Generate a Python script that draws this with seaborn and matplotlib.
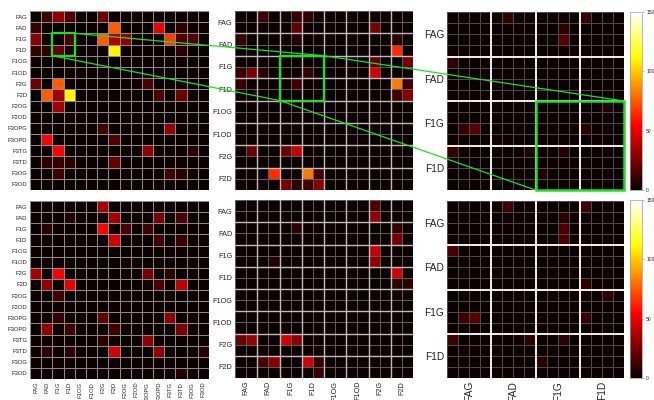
import numpy as np
import matplotlib
matplotlib.use("Agg")
import matplotlib.pyplot as plt
import seaborn as sns
from matplotlib.patches import Rectangle, ConnectionPatch
from matplotlib.cm import ScalarMappable
from matplotlib.colors import Normalize

labels16 = ['FAG', 'FAD', 'F1G', 'F1D', 'F1OG', 'F1OD', 'F2G', 'F2D',
            'F2OG', 'F2OD', 'F3OPG', 'F3OPD', 'F3TG', 'F3TD', 'F3OG', 'F3OD']
labels8 = labels16[:8]
labels4 = labels16[:4]
cbar_ticks = [0, 50, 100, 150]

top_left = [
    [1, 12, 30, 15, 1, 1, 22, 1, 1, 1, 1, 1, 1, 1, 1, 1],
    [10, 1, 1, 1, 1, 1, 1, 75, 1, 1, 1, 50, 1, 8, 1, 1],
    [30, 1, 1, 15, 1, 1, 75, 38, 30, 1, 1, 1, 68, 15, 15, 1],
    [10, 8, 20, 1, 1, 1, 1, 110, 1, 1, 1, 1, 1, 8, 1, 1],
    [1, 1, 1, 1, 1, 1, 1, 1, 1, 1, 1, 1, 1, 1, 1, 1],
    [1, 1, 1, 1, 1, 1, 1, 1, 1, 1, 1, 1, 1, 1, 1, 1],
    [22, 1, 75, 1, 1, 1, 1, 1, 1, 1, 15, 1, 1, 1, 1, 1],
    [1, 75, 35, 110, 1, 1, 1, 1, 1, 1, 1, 15, 1, 22, 1, 1],
    [1, 1, 35, 1, 1, 1, 1, 1, 1, 1, 1, 1, 1, 1, 1, 1],
    [1, 1, 1, 1, 1, 1, 1, 1, 1, 1, 1, 1, 1, 1, 1, 1],
    [1, 1, 1, 1, 1, 1, 12, 1, 1, 1, 1, 1, 30, 1, 1, 1],
    [1, 55, 1, 1, 1, 1, 1, 15, 1, 1, 1, 1, 1, 1, 1, 1],
    [1, 1, 55, 1, 1, 1, 1, 1, 1, 1, 30, 1, 1, 1, 8, 1],
    [1, 8, 10, 8, 1, 1, 1, 20, 1, 1, 1, 1, 1, 1, 1, 1],
    [1, 1, 12, 1, 1, 1, 1, 1, 1, 1, 1, 1, 12, 8, 1, 1],
    [1, 1, 1, 1, 1, 1, 1, 1, 1, 1, 1, 1, 1, 1, 1, 1],
]

top_mid = [
    [1, 1, 12, 1, 1, 10, 10, 1, 1, 1, 1, 1, 1, 1, 1, 1],
    [1, 1, 1, 1, 1, 20, 1, 1, 1, 1, 1, 1, 25, 1, 1, 1],
    [10, 1, 1, 1, 1, 6, 1, 1, 1, 1, 1, 1, 1, 1, 8, 1],
    [1, 1, 1, 1, 1, 1, 1, 1, 1, 1, 1, 1, 1, 1, 65, 1],
    [1, 1, 1, 1, 1, 1, 1, 1, 1, 1, 1, 1, 20, 1, 1, 25],
    [10, 25, 6, 1, 1, 1, 10, 1, 1, 1, 1, 1, 45, 1, 1, 1],
    [10, 1, 1, 1, 1, 12, 1, 1, 1, 1, 1, 1, 1, 1, 82, 12],
    [1, 1, 1, 1, 1, 1, 1, 1, 1, 1, 1, 1, 1, 1, 12, 28],
    [1, 1, 1, 1, 1, 1, 1, 1, 1, 1, 1, 1, 1, 1, 1, 1],
    [1, 1, 1, 1, 1, 1, 1, 1, 1, 1, 1, 1, 1, 1, 1, 1],
    [1, 1, 1, 1, 1, 1, 1, 1, 1, 1, 1, 1, 1, 1, 1, 1],
    [1, 1, 1, 1, 1, 1, 1, 1, 1, 1, 1, 1, 1, 1, 1, 1],
    [1, 22, 1, 1, 22, 42, 1, 1, 1, 1, 1, 1, 1, 1, 1, 1],
    [1, 1, 1, 1, 1, 1, 1, 1, 1, 1, 1, 1, 1, 1, 1, 1],
    [1, 1, 1, 65, 1, 1, 82, 12, 1, 1, 1, 1, 1, 1, 1, 1],
    [1, 1, 1, 1, 25, 8, 12, 28, 1, 1, 1, 1, 1, 1, 1, 1],
]

top_right = [
    [1, 1, 1, 1, 1, 10, 1, 1, 1, 1, 1, 1, 10, 1, 1, 1],
    [1, 1, 1, 1, 1, 1, 1, 1, 1, 1, 8, 1, 1, 1, 1, 1],
    [1, 1, 1, 1, 1, 1, 1, 1, 1, 1, 18, 1, 1, 1, 1, 1],
    [1, 1, 1, 1, 1, 1, 1, 1, 1, 1, 1, 1, 1, 1, 1, 1],
    [10, 1, 1, 1, 1, 1, 1, 1, 1, 1, 1, 1, 1, 1, 1, 1],
    [1, 1, 1, 1, 1, 1, 1, 1, 1, 1, 1, 1, 1, 1, 1, 1],
    [1, 1, 1, 1, 1, 1, 1, 1, 1, 1, 1, 1, 1, 1, 1, 1],
    [1, 1, 1, 1, 1, 1, 1, 1, 1, 1, 1, 1, 1, 1, 1, 1],
    [1, 1, 1, 1, 1, 1, 1, 1, 1, 1, 1, 1, 1, 1, 6, 1],
    [1, 1, 1, 1, 1, 1, 1, 1, 1, 1, 1, 1, 1, 1, 1, 1],
    [1, 10, 18, 1, 1, 1, 1, 1, 1, 1, 1, 1, 8, 1, 1, 1],
    [1, 1, 1, 1, 1, 1, 1, 1, 1, 1, 1, 1, 1, 1, 1, 1],
    [10, 1, 1, 1, 1, 1, 1, 5, 1, 1, 6, 1, 1, 1, 1, 1],
    [1, 1, 1, 1, 1, 1, 1, 1, 1, 1, 1, 1, 1, 1, 1, 1],
    [1, 1, 1, 1, 1, 1, 1, 1, 6, 1, 1, 1, 1, 1, 1, 1],
    [1, 1, 1, 1, 1, 1, 1, 1, 1, 1, 1, 1, 1, 1, 1, 1],
]

bottom_left = [
    [1, 1, 1, 1, 1, 1, 35, 1, 1, 1, 1, 1, 1, 1, 1, 1],
    [1, 1, 1, 6, 1, 1, 1, 35, 1, 1, 1, 25, 1, 15, 1, 1],
    [1, 8, 1, 1, 1, 1, 55, 1, 15, 1, 12, 1, 1, 1, 1, 1],
    [1, 1, 1, 1, 1, 1, 1, 45, 1, 1, 1, 12, 1, 10, 1, 1],
    [1, 1, 1, 1, 1, 1, 1, 1, 1, 1, 1, 1, 1, 1, 1, 1],
    [1, 1, 1, 1, 1, 1, 1, 1, 1, 1, 1, 1, 1, 1, 1, 1],
    [35, 1, 55, 1, 1, 1, 1, 1, 1, 1, 25, 1, 8, 1, 1, 1],
    [1, 30, 1, 50, 1, 1, 1, 1, 1, 1, 1, 15, 1, 40, 1, 1],
    [1, 1, 12, 1, 1, 1, 1, 1, 1, 1, 1, 1, 1, 1, 1, 1],
    [1, 1, 1, 1, 1, 1, 1, 1, 1, 1, 1, 1, 1, 1, 1, 1],
    [1, 1, 10, 1, 1, 1, 20, 1, 1, 1, 1, 1, 30, 1, 1, 1],
    [1, 30, 1, 12, 1, 1, 1, 12, 1, 1, 1, 1, 1, 25, 1, 1],
    [1, 1, 1, 1, 1, 1, 8, 1, 1, 1, 30, 1, 1, 1, 1, 1],
    [1, 10, 1, 8, 1, 1, 1, 45, 1, 1, 1, 30, 1, 1, 1, 8],
    [1, 1, 1, 1, 1, 1, 1, 1, 1, 1, 1, 1, 1, 1, 1, 1],
    [1, 1, 1, 1, 1, 1, 1, 1, 1, 1, 1, 1, 1, 6, 1, 1],
]

bottom_mid = [
    [1, 1, 1, 1, 1, 1, 1, 1, 1, 1, 1, 1, 15, 1, 1, 1],
    [1, 1, 1, 1, 1, 1, 1, 1, 1, 1, 1, 1, 30, 1, 1, 1],
    [1, 1, 1, 1, 1, 8, 1, 1, 1, 1, 1, 1, 1, 1, 10, 1],
    [1, 1, 1, 1, 1, 1, 1, 1, 1, 1, 1, 1, 1, 1, 25, 1],
    [1, 1, 1, 1, 1, 1, 1, 1, 1, 1, 1, 1, 42, 1, 1, 1],
    [1, 1, 1, 6, 1, 1, 1, 1, 1, 1, 1, 1, 30, 1, 1, 1],
    [1, 1, 1, 1, 1, 1, 1, 1, 1, 1, 1, 1, 1, 1, 45, 1],
    [1, 1, 1, 1, 1, 1, 1, 1, 1, 1, 1, 1, 1, 1, 8, 8],
    [1, 1, 1, 1, 1, 1, 1, 1, 1, 1, 1, 1, 1, 1, 1, 1],
    [1, 1, 1, 1, 1, 1, 1, 1, 1, 1, 1, 1, 1, 1, 1, 1],
    [1, 1, 1, 1, 1, 1, 1, 1, 1, 1, 1, 1, 1, 1, 1, 1],
    [1, 1, 1, 1, 1, 1, 1, 1, 1, 1, 1, 1, 1, 1, 1, 1],
    [22, 32, 1, 1, 45, 30, 1, 1, 1, 1, 1, 1, 1, 1, 1, 1],
    [1, 1, 1, 1, 1, 1, 1, 1, 1, 1, 1, 1, 1, 1, 1, 1],
    [1, 1, 15, 28, 1, 1, 45, 10, 1, 1, 1, 1, 1, 1, 1, 1],
    [1, 1, 1, 1, 1, 1, 1, 10, 1, 1, 1, 1, 1, 1, 1, 1],
]

bottom_right = [
    [1, 1, 1, 1, 1, 12, 1, 1, 1, 1, 1, 1, 12, 1, 1, 1],
    [1, 1, 1, 1, 1, 1, 1, 1, 1, 1, 8, 1, 1, 1, 1, 1],
    [1, 1, 1, 1, 1, 1, 1, 1, 1, 1, 15, 1, 1, 1, 1, 1],
    [1, 1, 1, 1, 1, 1, 1, 1, 1, 1, 15, 1, 1, 1, 1, 1],
    [14, 1, 1, 1, 1, 1, 1, 1, 1, 1, 1, 1, 1, 1, 1, 1],
    [1, 1, 1, 1, 1, 1, 1, 1, 1, 1, 1, 1, 1, 1, 1, 1],
    [1, 1, 1, 1, 1, 1, 1, 1, 1, 1, 1, 1, 1, 1, 1, 1],
    [1, 1, 1, 1, 1, 1, 1, 1, 1, 1, 1, 1, 8, 1, 1, 1],
    [1, 1, 1, 1, 1, 1, 1, 1, 1, 1, 1, 1, 1, 1, 8, 1],
    [1, 1, 1, 1, 1, 1, 1, 1, 1, 1, 1, 1, 1, 1, 1, 1],
    [1, 12, 18, 1, 1, 1, 1, 1, 1, 1, 1, 1, 10, 1, 1, 1],
    [1, 1, 1, 1, 1, 1, 1, 1, 1, 1, 1, 1, 1, 1, 1, 1],
    [12, 1, 1, 1, 1, 1, 1, 8, 1, 1, 8, 1, 1, 1, 1, 1],
    [1, 1, 1, 1, 1, 1, 1, 1, 1, 1, 1, 1, 1, 1, 1, 1],
    [1, 1, 1, 1, 1, 1, 1, 1, 8, 1, 1, 1, 1, 1, 1, 1],
    [1, 1, 1, 1, 1, 1, 1, 1, 1, 1, 1, 1, 1, 1, 1, 1],
]

sns.set_style("white")
plt.rcParams['font.family'] = ['Liberation Sans', 'DejaVu Sans']

W, H = 654, 400
fig = plt.figure(figsize=(W / 100, H / 100), dpi=100)


def add_ax(x0, y0, x1, y1):
    return fig.add_axes([x0 / W, 1 - y1 / H, (x1 - x0) / W, (y1 - y0) / H])


GREEN = '#1fe01f'
CMAP = 'hot'


def draw(ax, data, level, show_x):
    n = 16
    if level == 0:
        lw, lc = 0.6, '#8a8a8a'
    elif level == 1:
        lw, lc = 0.4, '#5a5a5a'
    else:
        lw, lc = 0.4, '#4a4a4a'
    sns.heatmap(np.array(data), ax=ax, cmap=CMAP, vmin=0, vmax=150, cbar=False,
                linewidths=lw, linecolor=lc, xticklabels=False, yticklabels=False)
    if level == 0:
        pos = np.arange(n) + 0.5
        labs, fs = labels16, 4.2
    elif level == 1:
        for k in range(2, n, 2):
            ax.axhline(k, color='#bdbdbd', lw=1.0)
            ax.axvline(k, color='#bdbdbd', lw=1.0)
        pos = np.arange(0, n, 2) + 1.0
        labs, fs = labels8, 5.2
    else:
        for k in range(4, n, 4):
            ax.axhline(k, color='#f0f0f0', lw=1.4)
            ax.axvline(k, color='#f0f0f0', lw=1.4)
        pos = np.arange(0, n, 4) + 2.0
        labs, fs = labels4, 7.3
    ax.set_yticks(pos)
    ax.set_yticklabels(labs, fontsize=fs, rotation=0, color='#222222')
    if show_x:
        ax.set_xticks(pos)
        ax.set_xticklabels(labs, fontsize=fs, rotation=90, color='#222222')
    else:
        ax.set_xticks([])
    ax.tick_params(length=0, pad=2)
    ax.set_xlim(0, n)
    ax.set_ylim(n, 0)


def colorbar(cax):
    sm = ScalarMappable(norm=Normalize(0, 150), cmap=CMAP)
    cb = fig.colorbar(sm, cax=cax, ticks=cbar_ticks)
    cb.ax.tick_params(labelsize=3.6, length=1.5, width=0.4, pad=1.5, color='#888888')
    cb.outline.set_edgecolor('#999999')
    cb.outline.set_linewidth(0.5)


ax_tl = add_ax(30, 11, 209, 190)
ax_tm = add_ax(235, 11, 413, 190)
ax_tr = add_ax(447, 12, 624, 190)
cax_t = add_ax(630, 12, 642, 190)
ax_bl = add_ax(30, 201, 209, 379)
ax_bm = add_ax(235, 200, 413, 378)
ax_br = add_ax(447, 201, 624, 378)
cax_b = add_ax(630, 200, 642, 378)

draw(ax_tl, top_left, 0, False)
draw(ax_tm, top_mid, 1, False)
draw(ax_tr, top_right, 2, False)
draw(ax_bl, bottom_left, 0, True)
draw(ax_bm, bottom_mid, 1, True)
draw(ax_br, bottom_right, 2, True)
colorbar(cax_t)
colorbar(cax_b)

# zoom boxes
ax_tl.add_patch(Rectangle((2, 2), 2, 2, fill=False, edgecolor=GREEN, lw=1.6, clip_on=False, zorder=5))
ax_tm.add_patch(Rectangle((4, 4), 4, 4, fill=False, edgecolor=GREEN, lw=1.6, clip_on=False, zorder=5))
ax_tr.add_patch(Rectangle((8, 8), 8, 8, fill=False, edgecolor=GREEN, lw=1.8, clip_on=False, zorder=5))

for (pa, axa, pb, axb) in [((4, 2), ax_tl, (8, 4), ax_tm),
                           ((2, 4), ax_tl, (4, 8), ax_tm),
                           ((8, 4), ax_tm, (16, 8), ax_tr),
                           ((4, 8), ax_tm, (8, 16), ax_tr)]:
    con = ConnectionPatch(xyA=pa, coordsA=axa.transData, xyB=pb, coordsB=axb.transData,
                          color=GREEN, lw=0.9, zorder=10)
    fig.add_artist(con)

fig.savefig('out.png', dpi=100)
